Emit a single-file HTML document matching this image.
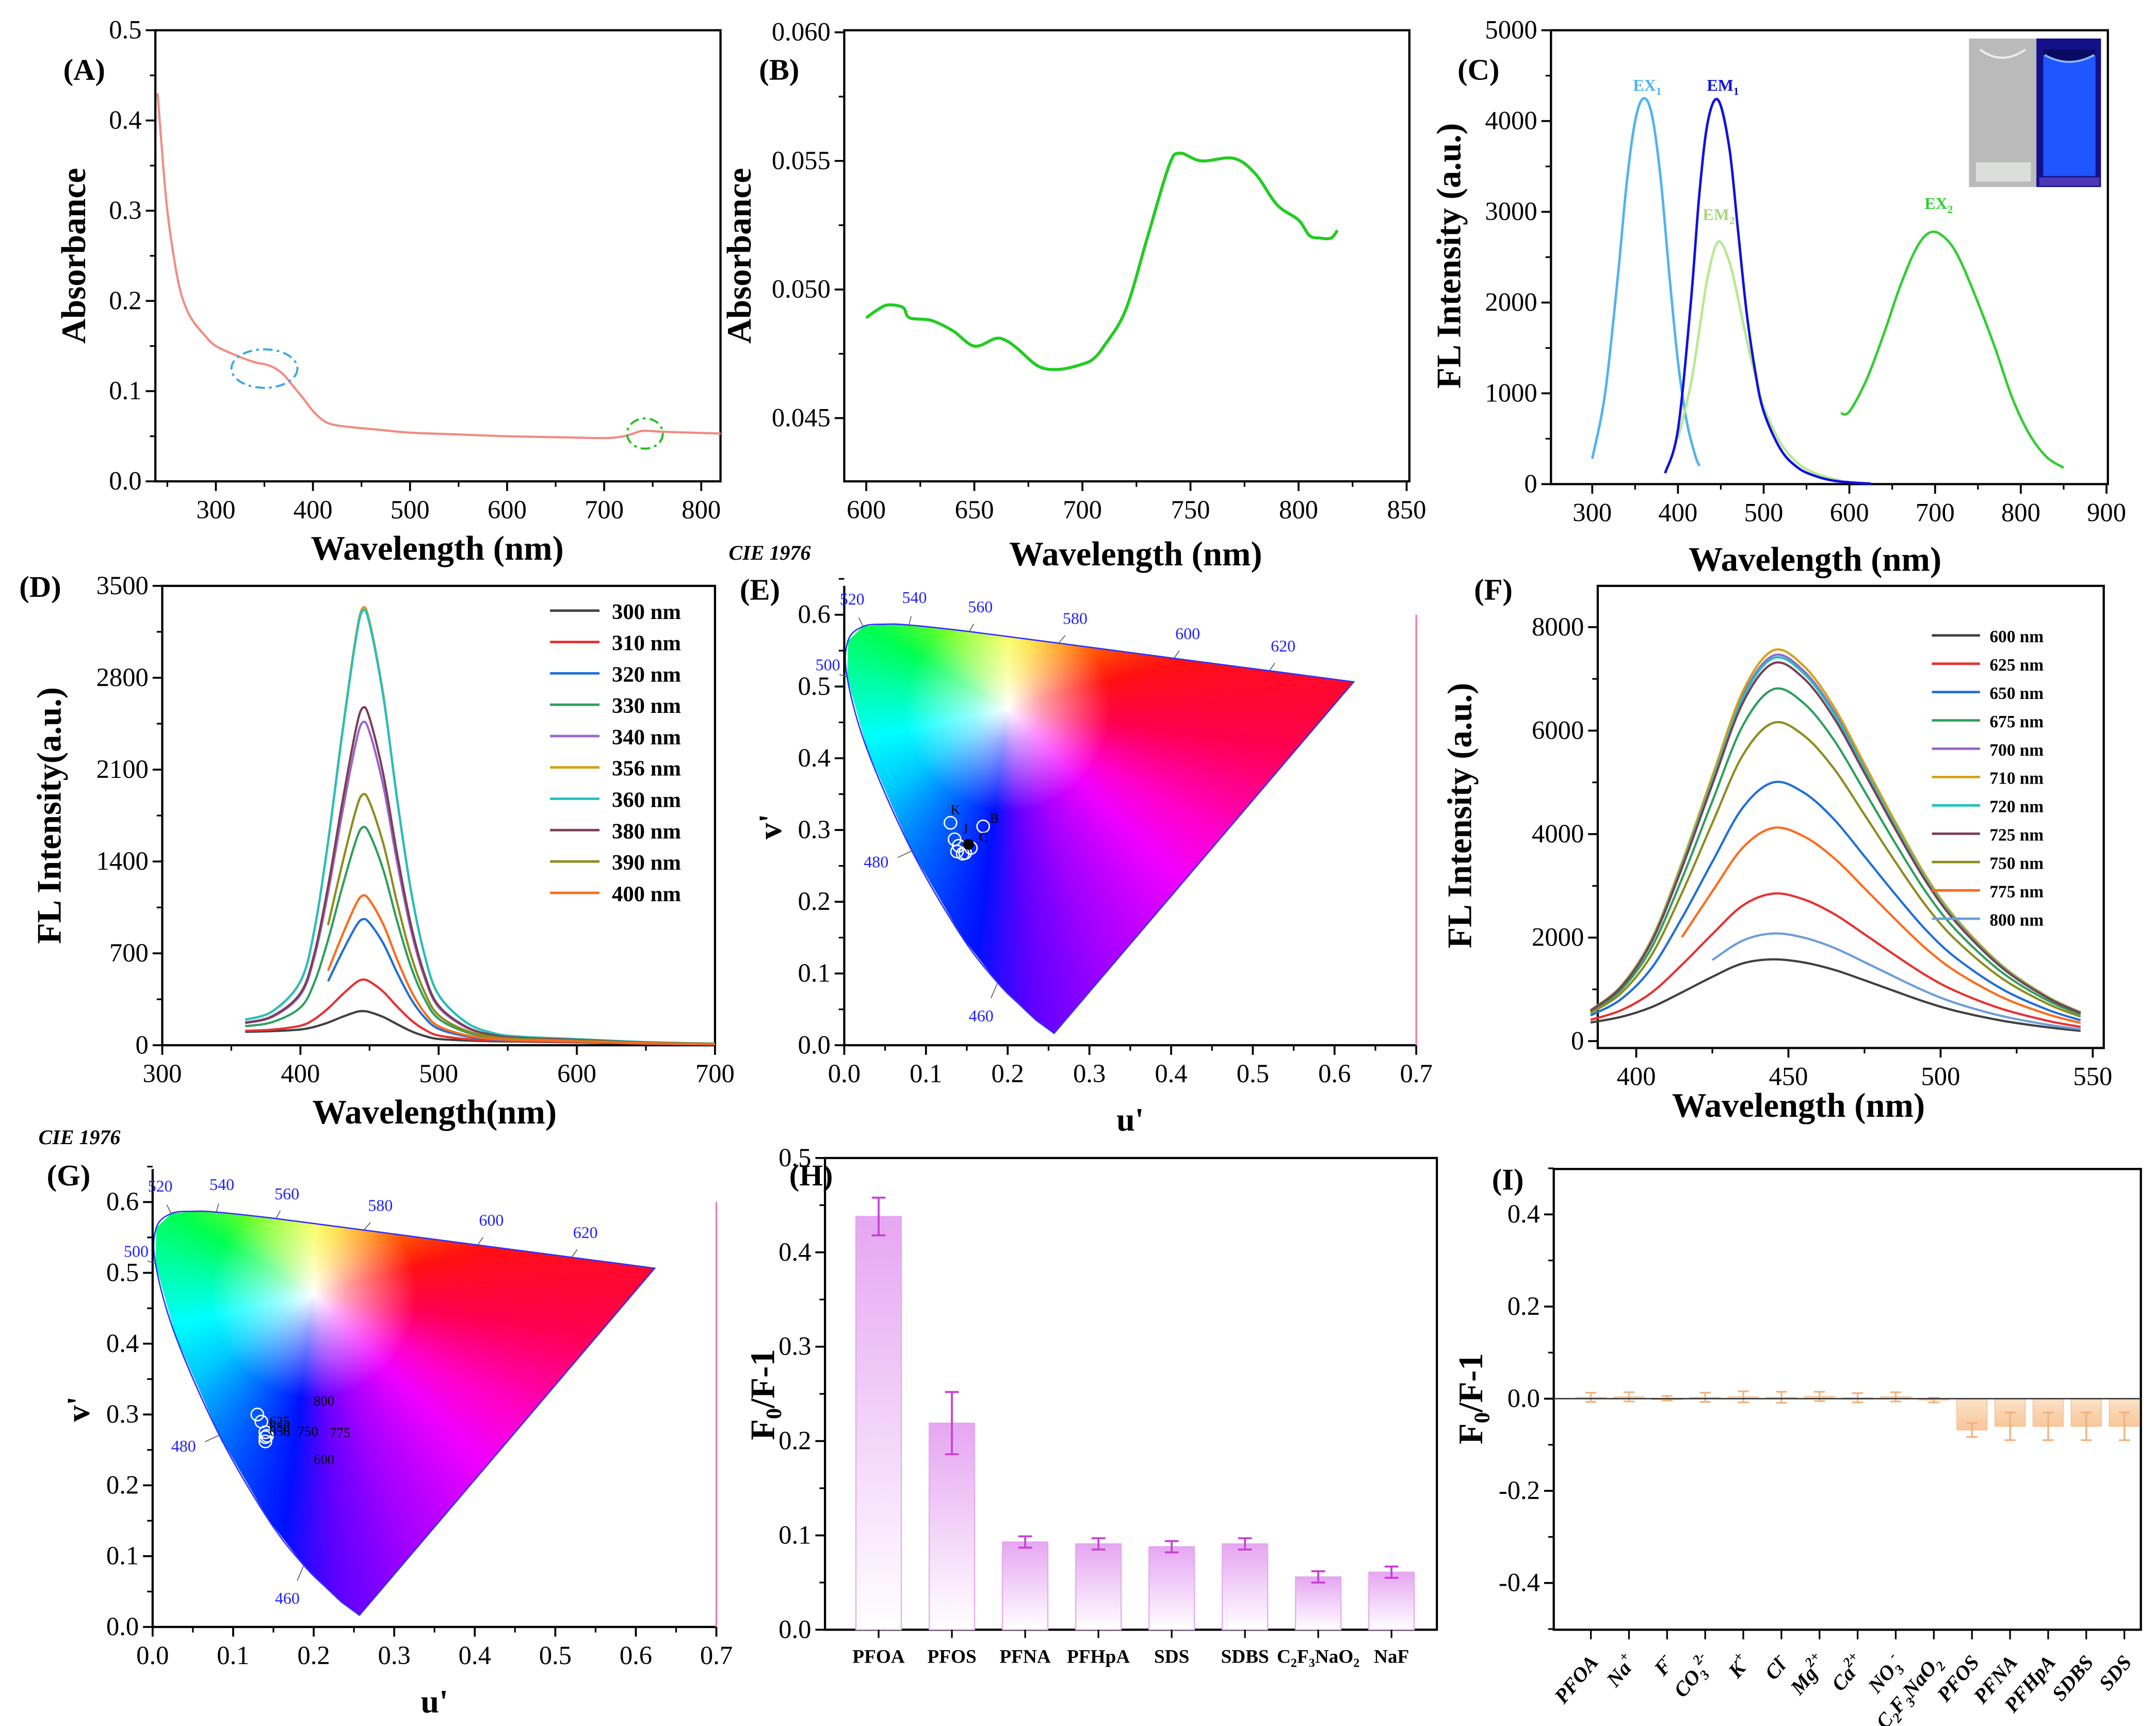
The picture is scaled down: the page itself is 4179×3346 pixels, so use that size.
<!DOCTYPE html>
<html><head><meta charset="utf-8">
<style>
html,body{margin:0;padding:0;background:#fff;}
body{width:4179px;height:3346px;overflow:hidden;position:relative;}
#wrap{position:absolute;left:0;top:0;width:1568px;height:1255px;transform-origin:0 0;transform:scale(2.66518,2.66614);}
.cie{position:absolute;}
svg{position:absolute;left:0;top:0;}
text{font-family:"Liberation Serif",serif;}
</style></head>
<body>
<div id="wrap">
<div class="cie" id="cieE"></div>
<div class="cie" id="cieG"></div>
<svg id="fig" width="1568" height="1255" viewBox="0 0 1568 1255"></svg>
</div>
<script>
// ---------- data ----------
const absA_x=[240,245,250,258,265,275,290,300,320,340,350,360,370,380,390,400,410,420,440,470,500,550,600,650,700,720,730,740,760,790,820];
const absA_y=[0.43,0.36,0.3,0.24,0.205,0.18,0.16,0.15,0.14,0.132,0.13,0.126,0.118,0.105,0.092,0.078,0.068,0.063,0.06,0.057,0.054,0.052,0.05,0.049,0.048,0.05,0.053,0.056,0.055,0.054,0.053];
const absB_x=[600,605,610,617,620,630,640,650,660,665,670,680,690,700,705,710,720,730,740,745,755,770,780,790,800,805,810,815,818];
const absB_y=[0.0489,0.0492,0.0494,0.0493,0.0489,0.0488,0.0484,0.0478,0.0481,0.0480,0.0477,0.0470,0.0469,0.0471,0.0473,0.0478,0.0492,0.0520,0.0548,0.0553,0.0550,0.0551,0.0545,0.0533,0.0527,0.0521,0.0520,0.0520,0.0523];
const ex1_x=[300,315,330,340,350,360,370,380,390,400,410,420,425];
const ex1_y=[280,1000,2300,3300,4000,4250,4050,3350,2300,1350,700,320,200];
const em1_x=[385,400,415,425,435,447,460,470,480,490,500,520,540,560,580,600,625];
const em1_y=[120,600,2000,3200,4000,4230,3700,2800,1900,1250,800,380,180,90,40,20,5];
const em2_x=[400,415,425,435,447,460,470,480,490,500,520,540,560,580,590];
const em2_y=[500,1100,1700,2300,2670,2450,2050,1600,1200,850,450,230,120,60,40];
const ex2_x=[590,600,620,640,660,680,697,715,730,750,770,790,810,830,850];
const ex2_y=[780,800,1150,1650,2200,2630,2780,2680,2450,2000,1500,950,550,300,180];
const D_labels=['300 nm','310 nm','320 nm','330 nm','340 nm','356 nm','360 nm','380 nm','390 nm','400 nm'];
const D_peaks=[250,490,950,1650,2450,3320,3300,2560,1900,1130];
const D_wl=[360,380,400,410,420,430,440,445,450,460,470,480,490,500,520,540,560,600,650,700];
const D_norm=[0.03,0.05,0.12,0.24,0.45,0.7,0.93,1.0,0.97,0.8,0.56,0.35,0.2,0.11,0.045,0.02,0.012,0.008,0.004,0.002];
const D_base=[95,95,90,80,60,40,20,10,10,15,20,20,20,20,25,25,25,20,10,5];
const F_labels=['600 nm','625 nm','650 nm','675 nm','700 nm','710 nm','720 nm','725 nm','750 nm','775 nm','800 nm'];
const F_peaks=[1480,2750,4900,6700,7350,7450,7300,7200,6050,4020,1980];
const F_wl=[385,395,405,415,425,435,445,455,465,475,485,495,505,520,535,546];
const F_norm=[0.04,0.1,0.22,0.42,0.65,0.88,1.0,0.96,0.85,0.7,0.55,0.41,0.3,0.18,0.1,0.06];
const F_base=[300,320,330,320,280,200,100,100,120,140,150,150,140,130,120,110];
const locus_u=[0.2568,0.2347,0.2161,0.1877,0.1441,0.0828,0.0282,0.0035,0.0046,0.0231,0.0501,0.0792,0.1531,0.2623,0.4035,0.5203,0.6234];
const locus_v=[0.0166,0.035,0.055,0.0871,0.151,0.2708,0.4117,0.513,0.5638,0.5837,0.5868,0.5857,0.5766,0.5604,0.5393,0.5219,0.5065];
const locus_nm=[380,440,450,460,470,480,490,500,510,520,530,540,560,580,600,620,700];
const E_pts_u=[0.13,0.17,0.135,0.14,0.138,0.145,0.155,0.148];
const E_pts_v=[0.31,0.305,0.287,0.278,0.27,0.267,0.275,0.268];
const G_pts_u=[0.13,0.135,0.14,0.14,0.14,0.142];
const G_pts_v=[0.30,0.29,0.275,0.268,0.262,0.27];
const H_cats=['PFOA','PFOS','PFNA','PFHpA','SDS','SDBS','C2F3NaO2','NaF'];
const H_vals=[0.438,0.219,0.093,0.091,0.088,0.091,0.056,0.061];
const H_err=[0.02,0.033,0.006,0.006,0.006,0.006,0.006,0.006];
const I_cats=['PFOA','Na+','F-','CO3 2-','K+','Cl-','Mg2+','Ca2+','NO3-','C2F3NaO2','PFOS','PFNA','PFHpA','SDBS','SDS'];
const I_vals=[0.003,0.004,0.001,0.003,0.004,0.003,0.005,0.002,0.004,-0.003,-0.068,-0.06,-0.06,-0.06,-0.06];
const I_err=[0.01,0.01,0.005,0.01,0.012,0.012,0.01,0.01,0.01,0.005,0.015,0.03,0.03,0.03,0.03];

// ---------- helpers ----------
const NS='http://www.w3.org/2000/svg';
const svg=document.getElementById('fig');
function mk(tag,attrs,parent){const e=document.createElementNS(NS,tag);for(const k in attrs)e.setAttribute(k,attrs[k]);(parent||svg).appendChild(e);return e;}
function lin(d0,d1,r0,r1){return v=>r0+(v-d0)*(r1-r0)/(d1-d0);}
function smooth(pts){let d='M'+pts[0][0].toFixed(2)+','+pts[0][1].toFixed(2);
 for(let i=0;i<pts.length-1;i++){const p0=pts[i-1]||pts[i],p1=pts[i],p2=pts[i+1],p3=pts[i+2]||p2;
  const c1=[p1[0]+(p2[0]-p0[0])/6,p1[1]+(p2[1]-p0[1])/6],c2=[p2[0]-(p3[0]-p1[0])/6,p2[1]-(p3[1]-p1[1])/6];
  d+='C'+c1[0].toFixed(2)+','+c1[1].toFixed(2)+' '+c2[0].toFixed(2)+','+c2[1].toFixed(2)+' '+p2[0].toFixed(2)+','+p2[1].toFixed(2);}
 return d;}
function txt(x,y,s,size,opts){const t=mk('text',Object.assign({x:x,y:y,'font-size':size,'text-anchor':'middle'},opts||{}));t.textContent=s;return t;}
function axes(o){
 const g=mk('g',{});
 
 
 if(o.box){const r=mk('rect',{x:o.L,y:o.T,width:o.R-o.L,height:o.B-o.T,fill:'none',stroke:'#000','stroke-width':1.6},g);
  
  }
 else{mk('line',{x1:o.L,y1:o.T,x2:o.L,y2:o.B,stroke:'#000','stroke-width':1.6},g);mk('line',{x1:o.L,y1:o.B,x2:o.R,y2:o.B,stroke:'#000','stroke-width':1.6},g);}
 if(o.xt){o.xt.forEach(v=>{const x=o.sx(v);mk('line',{x1:x,y1:o.B,x2:x,y2:o.B+7,stroke:'#000','stroke-width':1.4},g);
  const t=txt(x,o.B+27,o.fx(v),19,{});
  
  });
  (o.xminor||[]).forEach(v=>{const x=o.sx(v);mk('line',{x1:x,y1:o.B,x2:x,y2:o.B+4,stroke:'#000','stroke-width':1.2},g);});}
 o.yt.forEach(v=>{const y=o.sy(v);mk('line',{x1:o.L,y1:y,x2:o.L-7,y2:y,stroke:'#000','stroke-width':1.4},g);
  const t=txt(o.L-10,y+6,o.fy(v),19,{'text-anchor':'end'});
  
  });
 (o.yminor||[]).forEach(v=>{const y=o.sy(v);mk('line',{x1:o.L,y1:y,x2:o.L-4,y2:y,stroke:'#000','stroke-width':1.2},g);});
}
function range(a,b,s){const r=[];for(let v=a;v<=b+1e-9;v+=s)r.push(+v.toFixed(6));return r;}
function title(x,y,s,rot,size){const t=txt(x,y,s,size||25,{'font-weight':'bold'});if(rot)t.setAttribute('transform','rotate(-90 '+x+' '+y+')');return t;}
function panelLabel(x,y,s){const t=txt(x,y,s,22,{'font-weight':'bold','text-anchor':'start'});
 
 return t;}
function series(xs,ys,sx,sy,color,name,w){const p=mk('path',{d:smooth(xs.map((x,i)=>[sx(x),sy(ys[i])])),fill:'none',stroke:color,'stroke-width':w||1.8});
 
 return p;}

// ---------- Panel A ----------
{const sx=lin(300,800,157,510),sy=lin(0,0.5,350,22);
 axes({name:'panel-a',L:113,R:524,T:22,B:350,sx,sy,xt:range(300,800,100),xminor:range(250,800,50),yt:range(0,0.5,0.1),yminor:range(0.05,0.45,0.1),fx:v=>v,fy:v=>v.toFixed(1),box:true});
 series(absA_x,absA_y,sx,sy,'#f28b82','absorbance-curve-a',1.6);
 const e1=mk('ellipse',{cx:sx(350),cy:sy(0.125),rx:24,ry:14,fill:'none',stroke:'#3aa8e8','stroke-width':1.5,'stroke-dasharray':'7 3 2 3'});
 
 
 const e2=mk('ellipse',{cx:sx(742),cy:sy(0.053),rx:13,ry:11,fill:'none',stroke:'#22c022','stroke-width':1.5,'stroke-dasharray':'7 3 2 3'});
 
 
 panelLabel(46,58,'(A)');
 const yt=title(62,186,'Absorbance',true);
 const xt=title(318,407,'Wavelength (nm)');}

// ---------- Panel B ----------
{const sx=lin(600,850,630,1023),sy=lin(0.045,0.06,304,23.5);
 axes({name:'panel-b',L:614,R:1025,T:22,B:350,sx,sy,xt:range(600,850,50),xminor:range(625,825,50),yt:[0.045,0.05,0.055,0.06],yminor:[0.0475,0.0525,0.0575],fx:v=>v,fy:v=>v.toFixed(3),box:true});
 series(absB_x,absB_y,sx,sy,'#22cc22','absorbance-curve-b',2.2);
 panelLabel(552,58,'(B)');
 const yt=title(546,186,'Absorbance',true);
 const xt=title(826,411,'Wavelength (nm)');}

// ---------- Panel C ----------
{const sx=lin(300,900,1158,1532),sy=lin(0,5000,352,22);
 axes({name:'panel-c',L:1128,R:1533,T:22,B:352,sx,sy,xt:range(300,900,100),xminor:range(350,850,100),yt:range(0,5000,1000),yminor:range(500,4500,1000),fx:v=>v,fy:v=>v,box:true});
 series(ex1_x,ex1_y,sx,sy,'#4fb3f0','ex1-curve',1.8);
 series(em2_x,em2_y,sx,sy,'#b8e890','em2-curve',1.8);
 series(em1_x,em1_y,sx,sy,'#1010e0','em1-curve',1.8);
 series(ex2_x,ex2_y,sx,sy,'#33cc33','ex2-curve',1.8);
 const lab=[[1198,66,'EX','1','#4fb3f0'],[1253,66,'EM','1','#1010e0'],[1250,160,'EM','2','#a8d878'],[1410,152,'EX','2','#33cc33']];
 lab.forEach(l=>{const t=mk('text',{x:l[0],y:l[1],'font-size':12,'font-weight':'bold','text-anchor':'middle',fill:l[4]});t.textContent=l[2];
  const s=mk('tspan',{'font-size':8,dy:3},t);s.textContent=l[3];
  
  });
 const ins=mk('g',{});
 
 
 mk('rect',{x:1432,y:28,width:49,height:108,fill:'#b9bab9'},ins);
 mk('rect',{x:1437,y:118,width:40,height:14,fill:'#dcdedc'},ins);
 mk('path',{d:'M1440,36 Q1456,48 1473,36',fill:'none',stroke:'#eee','stroke-width':1.5},ins);
 mk('rect',{x:1481,y:28,width:47,height:108,fill:'#14108a'},ins);
 mk('rect',{x:1486,y:36,width:38,height:92,fill:'#1f56ff'},ins);
 mk('path',{d:'M1486,36 L1524,36 L1524,40 Q1505,50 1486,40 Z',fill:'#0a0a60'},ins);
 mk('path',{d:'M1487,40 Q1505,50 1523,40',fill:'none',stroke:'#8ab8ff','stroke-width':1.5},ins);
 mk('rect',{x:1483,y:129,width:44,height:6,fill:'#4a38b8'},ins);
 panelLabel(1060,58,'(C)');
 const yt=title(1062,186,'FL Intensity (a.u.)',true);
 const xt=title(1320,415,'Wavelength (nm)');}

// ---------- Panel D ----------
const Dcolors=['#404040','#e83030','#1f6fd8','#2e9e5e','#9966cc','#d4a017','#22c0c0','#7b3f55','#8c8c1f','#ff6a1a'];
{const sx=lin(300,700,118,520),sy=lin(0,3500,760,426);
 axes({name:'panel-d',L:118,R:520,T:426,B:760,sx,sy,xt:range(300,700,100),xminor:range(350,650,100),yt:range(0,3500,700),yminor:range(350,3150,700),fx:v=>v,fy:v=>v,box:true});
 D_peaks.forEach((pk,k)=>{const start=(k===2||k===8||k===9)?4:0;
  const xs=D_wl.slice(start),ys=D_wl.map((w,i)=>D_base[i]+pk*D_norm[i]).slice(start);
  series(xs,ys,sx,sy,Dcolors[k],'fl-curve-'+D_labels[k].replace(' ',''),1.6);
  const y=449+k*22.8;
  const li=mk('line',{x1:400,y1:y-5,x2:436,y2:y-5,stroke:Dcolors[k],'stroke-width':1.8});
  
  
  const t=txt(445,y+1,D_labels[k],16,{'text-anchor':'start','font-weight':'bold'});
  
  });
 panelLabel(14,434,'(D)');
 const yt=title(44,593,'FL Intensity(a.u.)',true);
 const xt=title(316,817,'Wavelength(nm)');}

// ---------- CIE panels ----------
function ciePanel(o){
 const sx=lin(0,0.7,o.L,o.R),sy=lin(0,0.6,o.B,o.y06);
 const div=document.getElementById(o.div);
 const pts=locus_u.map((u,i)=>[sx(u),sy(locus_v[i])]);
 const minx=Math.min(...pts.map(p=>p[0])),miny=Math.min(...pts.map(p=>p[1])),maxx=Math.max(...pts.map(p=>p[0])),maxy=Math.max(...pts.map(p=>p[1]));
 const wx=sx(0.2)-minx,wy=sy(0.47)-miny;
 div.style.left=minx+'px';div.style.top=miny+'px';div.style.width=(maxx-minx)+'px';div.style.height=(maxy-miny)+'px';
 div.style.background='radial-gradient(circle at '+wx+'px '+wy+'px, rgba(255,255,255,1) 0px, rgba(255,255,255,0.6) 25px, rgba(255,255,255,0) 75px), conic-gradient(from 0deg at '+wx+'px '+wy+'px, #f4ff30 0deg, #ffd000 22deg, #ff7000 50deg, #ff1010 75deg, #ff0050 98deg, #ff00c8 120deg, #f000ff 135deg, #a000ff 160deg, #6000ff 175deg, #0010ff 187deg, #0070ff 212deg, #00c8ff 235deg, #00ffff 258deg, #00ffa0 282deg, #00ff50 300deg, #70ff20 322deg, #f4ff30 360deg)';
 div.style.clipPath='polygon('+pts.map(p=>(p[0]-minx).toFixed(1)+'px '+(p[1]-miny).toFixed(1)+'px').join(',')+')';
 const outline=mk('path',{d:smooth(pts.slice(1))+'L'+pts[0][0]+','+pts[0][1]+'L'+pts[1][0]+','+pts[1][1],fill:'none',stroke:'#3030ff','stroke-width':1});
 
 
 axes({name:o.name,L:o.L,R:o.R,T:o.T,B:o.B,sx,sy,xt:range(0,0.7,0.1),xminor:range(0.05,0.65,0.1),yt:range(0,0.6,0.1),yminor:range(0.05,0.65,0.1),fx:v=>v.toFixed(1),fy:v=>v.toFixed(1),box:false});
 const pl=mk('line',{x1:o.R,y1:o.y06,x2:o.R,y2:o.B,stroke:'#f07aa0','stroke-width':1.2});
 
 
 const lbl={520:[-8,-16],540:[4,-16],560:[8,-14],580:[12,-14],600:[10,-14],620:[10,-14],500:[-14,-5],480:[-26,12],460:[-12,28]};
 locus_nm.forEach((nm,i)=>{if(!lbl[nm])return;const p=pts[i],d=lbl[nm];
  mk('line',{x1:p[0],y1:p[1],x2:p[0]+d[0]*0.4,y2:p[1]+d[1]*0.4,stroke:'#555','stroke-width':0.6});
  const t=txt(p[0]+d[0],p[1]+d[1],String(nm),12,{fill:'#2020ff'});
  
  });
 o.pu.forEach((u,i)=>{const c=mk('circle',{cx:sx(u),cy:sy(o.pv[i]),r:4.5,fill:'none',stroke:'#fff','stroke-width':1});
  
  });
 const ct=mk('text',{x:o.cieX,y:o.cieY,'font-size':15,'font-weight':'bold','font-style':'italic','font-family':'Liberation Sans, sans-serif'});ct.textContent='CIE 1976';
 
 
 panelLabel(o.plX,o.plY,o.pl);
 const yt=title(o.L-46,(o.T+o.B)/2+8,"v'",true,24);
 const xt=title((o.L+o.R)/2,o.B+62,"u'",0,24);
 return {sx,sy};
}
{const r=ciePanel({div:'cieE',name:'panel-e',L:614,R:1030,T:426,B:760,y06:447,pu:E_pts_u,pv:E_pts_v,cieX:530,cieY:407,plX:538,plY:436,pl:'(E)'});
 const c=mk('circle',{cx:r.sx(0.152),cy:r.sy(0.28),r:4,fill:'#000'});
 [['K',0.13,0.322],['B',0.178,0.31],['J',0.145,0.295],['C',0.165,0.284]].forEach(a=>{const t=mk('text',{x:r.sx(a[1]),y:r.sy(a[2]),'font-size':10,'font-family':'Liberation Sans, sans-serif'});t.textContent=a[0];
  
  });}
{const r=ciePanel({div:'cieG',name:'panel-g',L:111,R:521,T:850,B:1183,y06:874,pu:G_pts_u,pv:G_pts_v,cieX:28,cieY:832,plX:34,plY:862,pl:'(G)'});
 [['800',0.2,0.313],['625',0.145,0.284],['650',0.145,0.276],['656',0.145,0.27],['750',0.18,0.27],['775',0.22,0.268],['600',0.2,0.23]].forEach(a=>{const t=mk('text',{x:r.sx(a[1]),y:r.sy(a[2]),'font-size':10,'font-family':'Liberation Sans, sans-serif'});t.textContent=a[0];
  
  });}

// ---------- Panel F ----------
const Fcolors=['#404040','#e83030','#1f6fd8','#2e9e5e','#9966cc','#d4a017','#22c0c0','#7b3f55','#8c8c1f','#ff6a1a','#6a9ed8'];
{const sx=lin(400,550,1190,1522),sy=lin(0,8000,757,456);
 axes({name:'panel-f',L:1162,R:1530,T:426,B:762,sx,sy,xt:range(400,550,50),xminor:range(425,525,50),yt:range(0,8000,2000),yminor:range(1000,7000,2000),fx:v=>v,fy:v=>v,box:true});
 F_peaks.forEach((pk,k)=>{const start=k===9?3:(k===10?4:0);
  const xs=F_wl.slice(start),ys=F_wl.map((w,i)=>F_base[i]+pk*F_norm[i]).slice(start);
  series(xs,ys,sx,sy,Fcolors[k],'fl-curve-'+F_labels[k].replace(' ',''),1.6);
  const y=466+k*20.6;
  const li=mk('line',{x1:1405,y1:y-4,x2:1440,y2:y-4,stroke:Fcolors[k],'stroke-width':1.8});
  
  
  const t=txt(1447,y+1,F_labels[k],12.5,{'text-anchor':'start','font-weight':'bold'});
  
  });
 panelLabel(1072,436,'(F)');
 const yt=title(1070,593,'FL Intensity (a.u.)',true);
 const xt=title(1308,812,'Wavelength (nm)');}

// ---------- Panel H ----------
{const defs=mk('defs',{});
 const lg=mk('linearGradient',{id:'gH',x1:0,y1:0,x2:0,y2:1},defs);
 mk('stop',{offset:0,'stop-color':'#e6a6f2'},lg);mk('stop',{offset:1,'stop-color':'#ffffff'},lg);
 const lg2=mk('linearGradient',{id:'gI',x1:0,y1:0,x2:0,y2:1},defs);
 mk('stop',{offset:0,'stop-color':'#fbe2c8'},lg2);mk('stop',{offset:1,'stop-color':'#f7c79a'},lg2);
 const L=600,R=1045,T=842,B=1185,sy=lin(0,0.5,B,T);
 const cx=lin(0,H_cats.length-1,639,1012);
 axes({name:'panel-h',L,R,T,B,sx:cx,sy,xt:null,yt:range(0,0.5,0.1),yminor:range(0.05,0.45,0.1),fx:v=>v,fy:v=>v.toFixed(1),box:true});
 H_vals.forEach((v,i)=>{const x=cx(i);
  const b=mk('rect',{x:x-16.5,y:sy(v),width:33,height:sy(0)-sy(v),fill:'url(#gH)',stroke:'#e4a8ee','stroke-width':0.8});
  
  
  const e=mk('path',{d:'M'+x+','+sy(v+H_err[i])+'V'+sy(v-H_err[i])+'M'+(x-5)+','+sy(v+H_err[i])+'h10M'+(x-5)+','+sy(v-H_err[i])+'h10',stroke:'#c63fd6','stroke-width':1.4,fill:'none'});
  
  
  mk('line',{x1:x,y1:B,x2:x,y2:B+6,stroke:'#000','stroke-width':1.2});
  const t=mk('text',{x:x,y:B+24,'font-size':14,'font-weight':'bold','text-anchor':'middle'});
  if(H_cats[i]==='C2F3NaO2'){t.innerHTML='C<tspan font-size="9" dy="3">2</tspan><tspan dy="-3">F</tspan><tspan font-size="9" dy="3">3</tspan><tspan dy="-3">NaO</tspan><tspan font-size="9" dy="3">2</tspan>';}
  else t.textContent=H_cats[i];
  
  });
 panelLabel(574,862,'(H)');
 const yt=mk('text',{x:563,y:1014,'font-size':25,'font-weight':'bold','text-anchor':'middle',transform:'rotate(-90 563 1014)'});
 yt.innerHTML='F<tspan font-size="16" dy="5">0</tspan><tspan dy="-5">/F-1</tspan>';
 
 }

// ---------- Panel I ----------
{const L=1130,R=1557,T=850,B=1185,sy=lin(0,0.4,1017,883);
 const cx=lin(0,I_cats.length-1,1157,1545);
 axes({name:'panel-i',L,R,T,B,sx:cx,sy,xt:null,yt:[-0.4,-0.2,0,0.2,0.4],yminor:[-0.5,-0.3,-0.1,0.1,0.3,0.5],fx:v=>v,fy:v=>v.toFixed(1),box:true});
 I_vals.forEach((v,i)=>{const x=cx(i);
  const y0=Math.min(sy(0),sy(v)),h=Math.abs(sy(v)-sy(0));
  const b=mk('rect',{x:x-11,y:y0,width:22,height:Math.max(h,1),fill:'url(#gI)',stroke:'#f6c090','stroke-width':0.6});
  
  
  const e=mk('path',{d:'M'+x+','+sy(v+I_err[i])+'V'+sy(v-I_err[i])+'M'+(x-4)+','+sy(v+I_err[i])+'h8M'+(x-4)+','+sy(v-I_err[i])+'h8',stroke:'#f2b07a','stroke-width':1.2,fill:'none'});
  
  
  mk('line',{x1:x,y1:B,x2:x,y2:B+7,stroke:'#000','stroke-width':1.2});
  const t=mk('text',{x:x+6,y:B+24,'font-size':15,'font-weight':'bold','font-style':'italic','text-anchor':'end',transform:'rotate(-50 '+(x+6)+' '+(B+24)+')'});
  const map={'Na+':'Na<tspan font-size="10" dy="-7">+</tspan>','F-':'F<tspan font-size="10" dy="-7">-</tspan>','CO3 2-':'CO<tspan font-size="10" dy="4">3</tspan><tspan font-size="10" dy="-11">2-</tspan>','K+':'K<tspan font-size="10" dy="-7">+</tspan>','Cl-':'Cl<tspan font-size="10" dy="-7">-</tspan>','Mg2+':'Mg<tspan font-size="10" dy="-7">2+</tspan>','Ca2+':'Ca<tspan font-size="10" dy="-7">2+</tspan>','NO3-':'NO<tspan font-size="10" dy="4">3</tspan><tspan font-size="10" dy="-11">-</tspan>','C2F3NaO2':'C<tspan font-size="10" dy="4">2</tspan><tspan dy="-4">F</tspan><tspan font-size="10" dy="4">3</tspan><tspan dy="-4">NaO</tspan><tspan font-size="10" dy="4">2</tspan>'};
  if(map[I_cats[i]])t.innerHTML=map[I_cats[i]];else t.textContent=I_cats[i];
  
  });
 const z=mk('line',{x1:L,y1:sy(0),x2:R,y2:sy(0),stroke:'#333','stroke-width':1});
 
 
 panelLabel(1085,865,'(I)');
 const yt=mk('text',{x:1078,y:1017,'font-size':25,'font-weight':'bold','text-anchor':'middle',transform:'rotate(-90 1078 1017)'});
 yt.innerHTML='F<tspan font-size="16" dy="5">0</tspan><tspan dy="-5">/F-1</tspan>';
 
 }
</script>
</body></html>
